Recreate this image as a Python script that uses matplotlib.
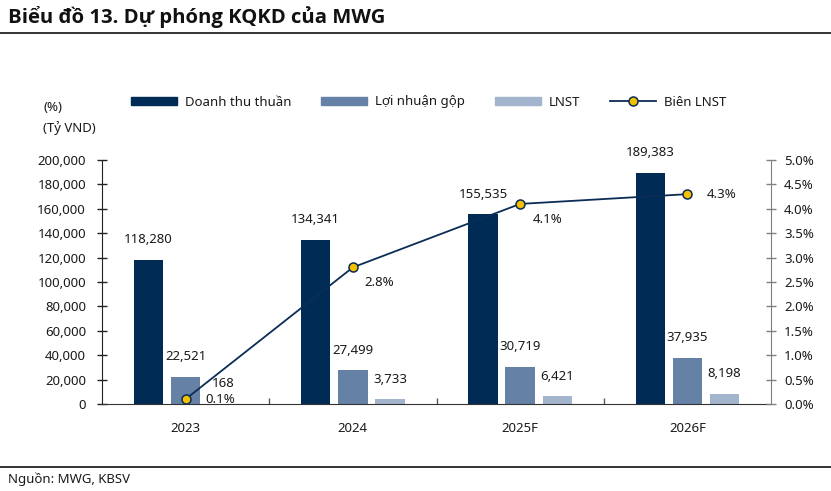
"""Biểu đồ 13 - Dự phóng KQKD của MWG (bars + margin line on twin axis)."""

import matplotlib

matplotlib.use("Agg")
import matplotlib.pyplot as plt
import numpy as np
from matplotlib.lines import Line2D
from matplotlib.patches import Patch

plt.rcParams["font.family"] = ["Noto Sans", "DejaVu Sans"]

years = ["2023", "2024", "2025F", "2026F"]
revenue = [118280, 134341, 155535, 189383]        # Doanh thu thuần
gross_profit = [22521, 27499, 30719, 37935]       # Lợi nhuận gộp
net_profit = [168, 3733, 6421, 8198]              # LNST
net_margin = [0.1, 2.8, 4.1, 4.3]                 # Biên LNST (%)

C_REV, C_GP, C_NP = "#002b55", "#6581a6", "#a3b4cd"
C_LINE, C_MARK = "#0b2d55", "#f5c000"
TXT = "#1a1a1a"
FS = 9.5

fig = plt.figure(figsize=(8.31, 4.91), dpi=100)
ax = fig.add_axes([102 / 831, 1 - 404 / 491, 669 / 831, 244 / 491])
ax2 = ax.twinx()

x = np.arange(len(years))
w, step = 0.175, 0.222
series = [(revenue, C_REV, -step), (gross_profit, C_GP, 0.0), (net_profit, C_NP, step)]
for vals, col, off in series:
    bars = ax.bar(x + off, vals, width=w, color=col, zorder=2)
    for b, v in zip(bars, vals):
        ax.annotate(f"{v:,}", (b.get_x() + b.get_width() / 2, v), xytext=(0, 14.5),
                    textcoords="offset points", ha="center", va="center",
                    fontsize=FS, color=TXT)

ax2.plot(x, net_margin, color=C_LINE, lw=1.3, marker="o", ms=6.5,
         mfc=C_MARK, mec=C_LINE, mew=1.1, zorder=5)
# label offsets (points)
pct_off = [(25, 0), (19, -11), (20, -11), (25, 0)]
for xi, v, (dx, dy) in zip(x, net_margin, pct_off):
    ax2.annotate(f"{v:.1f}%", (xi, v), xytext=(dx, dy), textcoords="offset points",
                 ha="center", va="center", fontsize=FS, color=TXT)

ax.set_xlim(-0.5, len(years) - 0.5)
ax.set_ylim(0, 200000)
ax.set_yticks(np.arange(0, 200001, 20000))
ax.set_yticklabels([f"{t:,}" for t in range(0, 200001, 20000)])
ax2.set_ylim(0, 5)
ax2.set_yticks(np.arange(0, 5.01, 0.5))
ax2.set_yticklabels([f"{t:.1f}%" for t in np.arange(0, 5.01, 0.5)])

ax.set_xticks(x)
ax.set_xticklabels(years)
ax.set_xticks(x[:-1] + 0.5, minor=True)
ax.tick_params(axis="x", which="major", length=0, pad=13, labelsize=FS, labelcolor=TXT)
ax.tick_params(axis="x", which="minor", direction="in", length=4, width=1, color="#555555")
ax.tick_params(axis="y", direction="inout", length=7, width=1, color="#222222",
               labelsize=FS, labelcolor=TXT, pad=8)
ax2.tick_params(axis="y", direction="inout", length=7, width=1, color="#808080",
                labelsize=FS, labelcolor=TXT, pad=6)

for a in (ax, ax2):
    for side in ("top", "left", "right", "bottom"):
        a.spines[side].set_visible(False)
ax.spines["left"].set_visible(True)
ax.spines["left"].set_color("#222222")
ax.spines["bottom"].set_visible(True)
ax.spines["bottom"].set_color("#333333")
ax2.spines["right"].set_visible(True)
ax2.spines["right"].set_color("#808080")

# title, rules, source
fig.text(8 / 831, 1 - 17 / 491, "Biểu đồ 13. Dự phóng KQKD của MWG", fontsize=14.6,
         fontweight="bold", family=["Open Sans", "DejaVu Sans"], color="#111111",
         va="center", ha="left")
fig.add_artist(Line2D([0, 1], [1 - 33 / 491] * 2, color="#111111", lw=1.2))
fig.add_artist(Line2D([0, 1], [1 - 467 / 491] * 2, color="#111111", lw=1.2))
fig.text(8 / 831, 1 - 479 / 491, "Nguồn: MWG, KBSV", fontsize=FS, color=TXT,
         va="center", ha="left")

fig.text(43 / 831, 1 - 108 / 491, "(%)", fontsize=FS, color=TXT, va="center")
fig.text(43 / 831, 1 - 128 / 491, "(Tỷ VND)", fontsize=FS, color=TXT, va="center")

handles = [
    Patch(color=C_REV, label="Doanh thu thuần"),
    Patch(color=C_GP, label="Lợi nhuận gộp"),
    Patch(color=C_NP, label="LNST"),
    Line2D([], [], color=C_LINE, lw=1.3, marker="o", ms=6.5, mfc=C_MARK, mec=C_LINE,
           mew=1.1, label="Biên LNST"),
]
fig.legend(handles=handles, ncol=4, loc="center left", bbox_to_anchor=(119 / 831, 1 - 102 / 491),
           frameon=False, fontsize=FS, handlelength=3.5, handleheight=0.6,
           handletextpad=0.6, columnspacing=2.25, labelcolor=TXT)

fig.savefig("out.png", dpi=100)
